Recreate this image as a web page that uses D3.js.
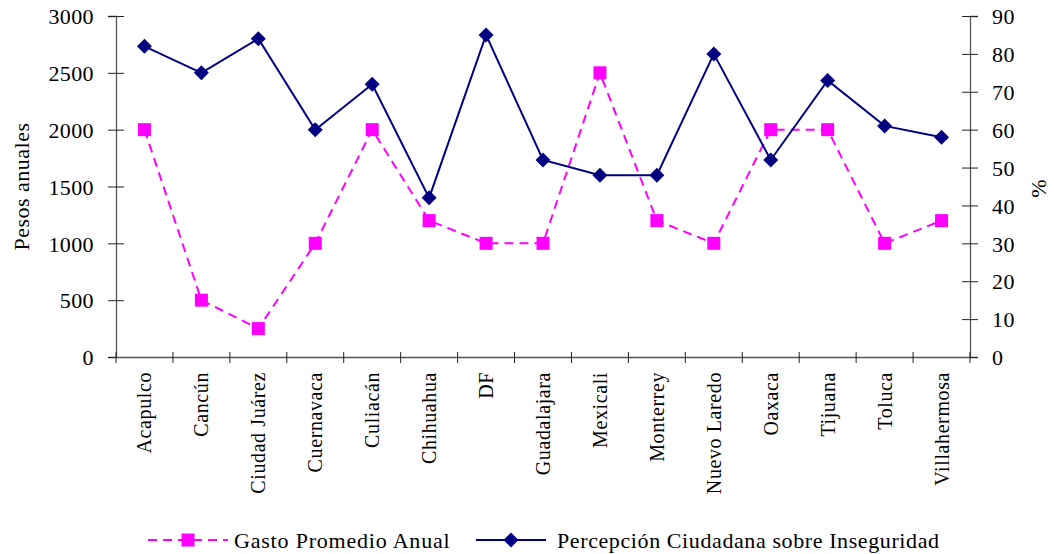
<!DOCTYPE html>
<html>
<head>
<meta charset="utf-8">
<script src="https://cdn.jsdelivr.net/npm/d3@7"></script>
<style>
  html, body { margin: 0; padding: 0; background: #fff; }
  svg { display: block; }
</style>
</head>
<body>
<svg id="chart" width="1054" height="554"></svg>
<script>
// Cities on the category axis
const categories = ["Acapulco", "Cancún", "Ciudad Juárez", "Cuernavaca", "Culiacán", "Chihuahua", "DF",
  "Guadalajara", "Mexicali", "Monterrey", "Nuevo Laredo", "Oaxaca", "Tijuana", "Toluca", "Villahermosa"];

// Average annual spending (pesos) — left axis
const gastoPromedio = [2000, 500, 250, 1000, 2000, 1200, 1000, 1000, 2500, 1200, 1000, 2000, 2000, 1000, 1200];

// Citizens' perception of insecurity (%) — right axis
const percepcion = [82, 75, 84, 60, 72, 42, 85, 52, 48, 48, 80, 52, 73, 61, 58];

const leftTicks = [0, 500, 1000, 1500, 2000, 2500, 3000];
const rightTicks = [0, 10, 20, 30, 40, 50, 60, 70, 80, 90];

const seriesNames = ["Gasto Promedio Anual", "Percepción Ciudadana sobre Inseguridad"];

const FONT = "'Liberation Serif', 'Times New Roman', serif";
const pink = "#ff00ff", navy = "#000080";
const svg = d3.select("#chart").style("font-family", FONT);

const plot = { left: 116, right: 970, top: 16, bottom: 357 };

const x = d3.scaleBand().domain(categories).range([plot.left, plot.right]).padding(0);
const yL = d3.scaleLinear().domain([0, 3000]).range([plot.bottom, plot.top]);
const yR = d3.scaleLinear().domain([0, 90]).range([plot.bottom, plot.top]);

const axisColor = "#555";
const fmt = d3.format("d");

// Left axis
const gL = svg.append("g").attr("transform", `translate(${plot.left},0)`)
  .call(d3.axisLeft(yL).tickValues(leftTicks).tickFormat(fmt).tickSize(8).tickPadding(14));
gL.selectAll(".tick line").attr("x2", 8).attr("x1", -8).attr("stroke", "#222");
// Right axis
const gR = svg.append("g").attr("transform", `translate(${plot.right},0)`)
  .call(d3.axisRight(yR).tickValues(rightTicks).tickFormat(fmt).tickSize(8).tickPadding(14));
gR.selectAll(".tick line").attr("x1", -8).attr("x2", 8).attr("stroke", "#222");
// Category axis with boundary ticks
const gB = svg.append("g").attr("transform", `translate(0,${plot.bottom})`)
  .call(d3.axisBottom(x).tickSize(0).tickFormat(""));
const bounds = categories.map(c => x(c)).concat([plot.right]);
gB.selectAll(".bound").data(bounds).enter().append("line")
  .attr("x1", d => d).attr("x2", d => d).attr("y1", -5).attr("y2", 6).attr("stroke", "#222");

[gL, gR, gB].forEach(g => {
  g.attr("font-family", null).attr("font-size", null);
  g.select(".domain").attr("stroke", axisColor).attr("stroke-width", 1.3);
  g.selectAll(".tick text").style("font-size", "22px").style("font-family", FONT).attr("fill", "#000")
    .style("letter-spacing", "0.4px");
});
gL.selectAll(".tick text").attr("dy", "0.35em");
gR.selectAll(".tick text").attr("dy", "0.35em");

// Rotated city labels
svg.append("g").selectAll("text").data(categories).enter().append("text")
  .attr("transform", d => `translate(${x(d) + x.bandwidth() / 2 + 7},${plot.bottom + 15}) rotate(-90)`)
  .attr("text-anchor", "end")
  .style("font-family", FONT).style("font-size", "20px").style("letter-spacing", "0.6px")
  .text(d => d);

// Axis titles
svg.append("text").attr("transform", `translate(29,${(plot.top + plot.bottom) / 2}) rotate(-90)`)
  .attr("text-anchor", "middle").style("font-family", FONT).style("font-size", "22px")
  .style("letter-spacing", "0.5px").text("Pesos anuales");
svg.append("text").attr("transform", `translate(1046,${(plot.top + plot.bottom) / 2 + 2}) rotate(-90)`)
  .attr("text-anchor", "middle").style("font-family", FONT).style("font-size", "22px").text("%");

const cx = d => x(d) + x.bandwidth() / 2;

// Spending line (dashed) with square markers
svg.append("path").datum(gastoPromedio)
  .attr("fill", "none").attr("stroke", pink).attr("stroke-width", 2)
  .attr("stroke-dasharray", "9,6")
  .attr("d", d3.line().x((d, i) => cx(categories[i])).y(d => yL(d)));
svg.append("g").selectAll("rect").data(gastoPromedio).enter().append("rect")
  .attr("x", (d, i) => cx(categories[i]) - 6.5).attr("y", d => yL(d) - 6.5)
  .attr("width", 13).attr("height", 13).attr("fill", pink);

// Perception line (solid) with diamond markers
svg.append("path").datum(percepcion)
  .attr("fill", "none").attr("stroke", navy).attr("stroke-width", 2)
  .attr("d", d3.line().x((d, i) => cx(categories[i])).y(d => yR(d)));
const diamond = "M0,-7.5L7.5,0L0,7.5L-7.5,0Z";
svg.append("g").selectAll("path").data(percepcion).enter().append("path")
  .attr("d", diamond).attr("fill", navy)
  .attr("transform", (d, i) => `translate(${cx(categories[i])},${yR(d)})`);

// Legend
const ly = 540;
const lg = svg.append("g");
lg.append("line").attr("x1", 148).attr("x2", 228).attr("y1", ly).attr("y2", ly)
  .attr("stroke", pink).attr("stroke-width", 2).attr("stroke-dasharray", "9,6");
lg.append("rect").attr("x", 181.5).attr("y", ly - 6.5).attr("width", 13).attr("height", 13).attr("fill", pink);
lg.append("text").attr("x", 234).attr("y", ly).attr("dy", "0.35em")
  .style("font-family", FONT).style("font-size", "22px").style("letter-spacing", "0.8px").text(seriesNames[0]);
lg.append("line").attr("x1", 476).attr("x2", 546).attr("y1", ly).attr("y2", ly)
  .attr("stroke", navy).attr("stroke-width", 2);
lg.append("path").attr("d", diamond).attr("fill", navy).attr("transform", `translate(511,${ly})`);
lg.append("text").attr("x", 557).attr("y", ly).attr("dy", "0.35em")
  .style("font-family", FONT).style("font-size", "22px").style("letter-spacing", "0.6px").text(seriesNames[1]);
</script>
</body>
</html>
